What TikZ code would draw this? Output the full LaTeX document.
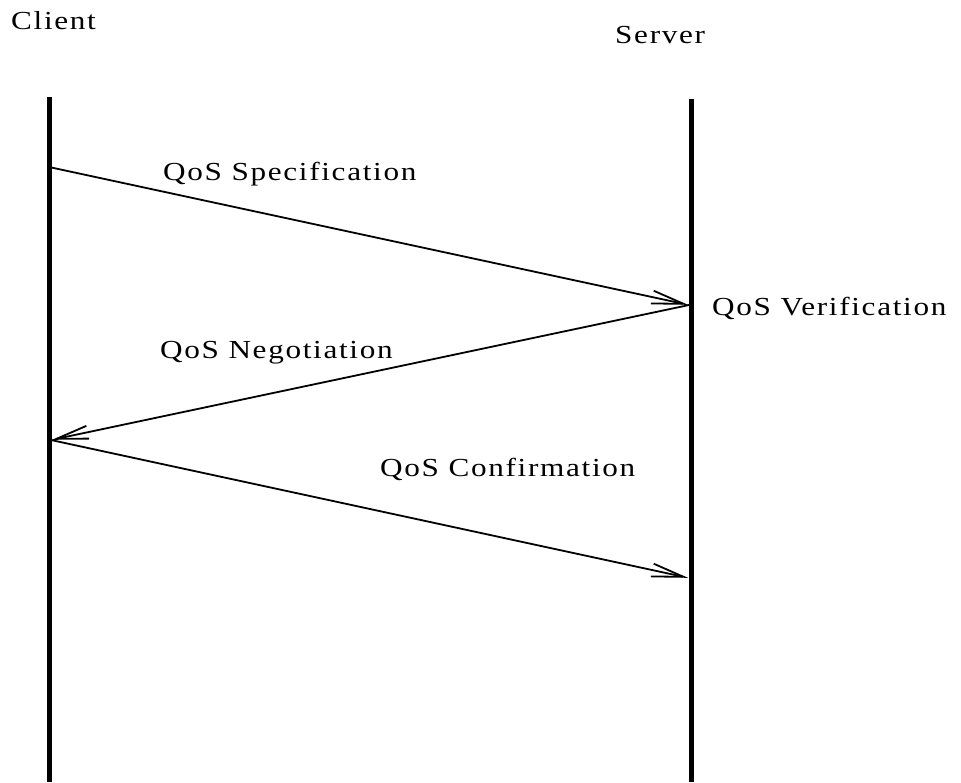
\documentclass[tikz,border=0pt]{standalone}
\usepackage{fontspec}
\setmainfont{Liberation Serif}[FakeStretch=1.2,LetterSpace=6.5]
\usetikzlibrary{arrows.meta}
\begin{document}
\begin{tikzpicture}[x=1pt,y=-1pt,
  lifeline/.style={line width=5pt},
  msg/.style={line width=1.8pt,-{Straight Barb[length=32pt,width=13pt,line width=1.8pt]}, shorten >=1pt},
  lbl/.style={font=\fontsize{26}{30}\selectfont, inner sep=0pt, anchor=base west}]
\useasboundingbox (0,0) rectangle (961,782);
\node[lbl] (client) at (11,29) {Client};
\node[lbl] (server) at (615,43) {Server};
\coordinate (ct) at (49,97);
\coordinate (cb) at (49,782);
\coordinate (st) at (691,99);
\coordinate (sb) at (691,782);
\draw[lifeline] (ct) -- (cb);
\draw[lifeline] (st) -- (sb);
\coordinate (c1) at (49,167);
\coordinate (s1) at (689,305);
\coordinate (c2) at (51,440);
\coordinate (s2) at (689,578);
\draw[msg] (c1) -- (s1);
\draw[msg] (s1) -- (c2);
\draw[msg] (c2) -- (s2);
\node[lbl] (spec) at (163,180) {QoS Specification};
\node[lbl] (ver) at (712,315) {QoS Verification};
\node[lbl] (neg) at (160,358) {QoS Negotiation};
\node[lbl] (conf) at (380,476) {QoS Confirmation};
\end{tikzpicture}
\end{document}
